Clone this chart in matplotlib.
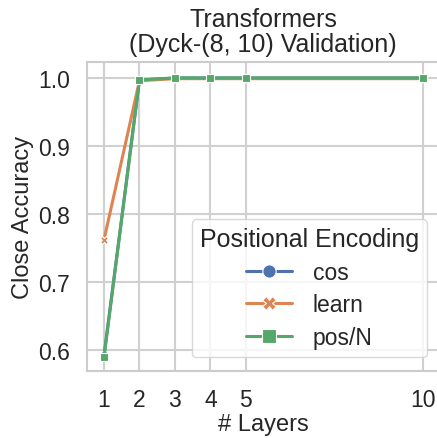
import matplotlib
matplotlib.use("Agg")
import matplotlib.pyplot as plt
import seaborn as sns

sns.set_theme(style="whitegrid")
plt.rcParams['font.family'] = ['Liberation Sans', 'DejaVu Sans']

layers = [1, 2, 3, 4, 5, 10]
series_names = ["cos", "learn", "pos/N"]
cos_vals = [0.592, 0.997, 1.0, 1.0, 1.0, 1.0]
learn_vals = [0.762, 0.996, 0.999, 0.999, 0.999, 0.999]
posn_vals = [0.589, 0.997, 1.0, 1.0, 1.0, 1.0]
xtick_labels = ["1", "2", "3", "4", "5", "10"]
yticks = [0.6, 0.7, 0.8, 0.9, 1.0]

colors = sns.color_palette("deep")[:3]
markers = ["o", "X", "s"]

fig = plt.figure(figsize=(4.37, 4.39), dpi=100)
ax = fig.add_axes([87/437, (439-372)/439, (439-87)/437, (372-63)/439])

for name, vals, c, m in zip(series_names, [cos_vals, learn_vals, posn_vals], colors, markers):
    ax.plot(layers, vals, color=c, marker=m, lw=2.2, markersize=6,
            markeredgecolor="white", markeredgewidth=0.8, label=name)

ax.set_xlim(0.52, 10.45)
ax.set_ylim(0.569, 1.0235)
ax.set_xticks(layers)
ax.set_xticklabels(xtick_labels)
ax.set_yticks(yticks)
ax.tick_params(labelsize=16.5, pad=6)
ax.set_xlabel("# Layers", fontsize=17, labelpad=2)
ax.set_ylabel("Close Accuracy", fontsize=17, labelpad=3)
ax.set_title("Transformers\n(Dyck-(8, 10) Validation)", fontsize=18, linespacing=1.05, pad=8)
for s in ax.spines.values():
    s.set_color("#cccccc")
    s.set_linewidth(1.5)
ax.grid(color="#d0d0d0", linewidth=1.5)

leg = ax.legend(title="Positional Encoding", fontsize=16.5, title_fontsize=18,
                loc="lower right", markerscale=1.6, frameon=True,
                bbox_to_anchor=(0.966, 0.045), borderaxespad=0.0, labelspacing=0.42,
                handletextpad=0.9, borderpad=0.35)
leg.get_frame().set_edgecolor("#d0d0d0")

fig.savefig("out.png", dpi=100)
